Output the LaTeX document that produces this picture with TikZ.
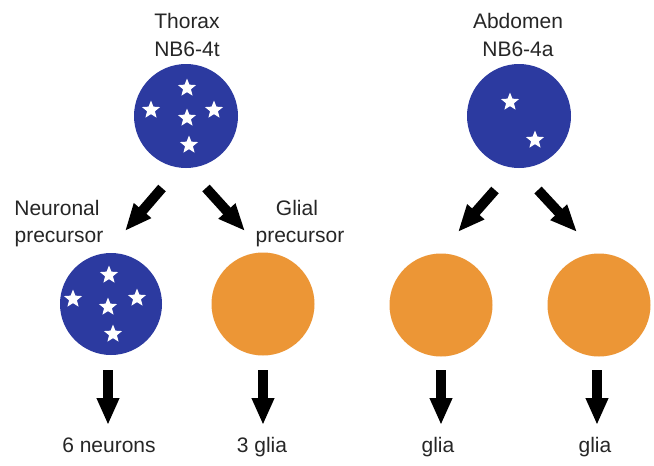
\documentclass[tikz,border=0pt]{standalone}
\usepackage{fontspec}
\setmainfont{Liberation Sans}
\usetikzlibrary{shapes.geometric,arrows.meta}
\definecolor{nbblue}{RGB}{44,58,160}
\definecolor{gliaorange}{RGB}{236,150,54}
\tikzset{
  blast/.style={circle,fill=nbblue,minimum size=104pt,inner sep=0pt},
  glia/.style={circle,fill=gliaorange,minimum size=103pt,inner sep=0pt},
  wstar/.style={star,star points=5,star point ratio=2.3,fill=white,minimum size=19pt,inner sep=0pt},
  lbl/.style={font=\fontsize{21}{25}\selectfont,anchor=base,inner sep=0pt,text=black!85},
  bigarrow/.style={line width=10pt,-{Triangle[width=21pt,length=27pt]}}
}
\begin{document}
\begin{tikzpicture}[x=1pt,y=-1pt]
\useasboundingbox[fill=white] (0,0) rectangle (654,466);
% labels
\node[lbl] (thx) at (187,28) {Thorax};
\node[lbl] (thxb) at (187,56) {NB6-4t};
\node[lbl] (abd) at (518,28) {Abdomen};
\node[lbl] (abdb) at (518,56) {NB6-4a};
\node[lbl] (neu) at (57,215) {Neuronal};
\node[lbl] (neub) at (59,242) {precursor};
\node[lbl] (gli) at (297,215) {Glial};
\node[lbl] (glib) at (300,242) {precursor};
\node[lbl] (o1) at (109,452) {6 neurons};
\node[lbl] (o2) at (262,452) {3 glia};
\node[lbl] (o3) at (438,452) {glia};
\node[lbl] (o4) at (595,452) {glia};
% cells
\node[blast] (t) at (186,116) {};
\node[blast] (a) at (519,116) {};
\node[blast,minimum size=102pt] (n) at (111,304) {};
\node[glia] (g1) at (263,304) {};
\node[glia] (g2) at (441,305) {};
\node[glia] (g3) at (599,305) {};
% stars thorax
\node[wstar] (ts1) at (187,88) {};
\node[wstar] (ts2) at (151,110) {};
\node[wstar] (ts3) at (187,118) {};
\node[wstar] (ts4) at (214,110) {};
\node[wstar] (ts5) at (189,145) {};
% stars abdomen
\node[wstar] (as1) at (510,102) {};
\node[wstar] (as2) at (535,140) {};
% stars neuronal precursor
\node[wstar] (ns1) at (109,275) {};
\node[wstar] (ns2) at (73,299) {};
\node[wstar] (ns3) at (108,307) {};
\node[wstar] (ns4) at (137,298) {};
\node[wstar] (ns5) at (113,334) {};
% arrow ends
\coordinate (d1s) at (162,188); \coordinate (d1e) at (125,231);
\coordinate (d2s) at (206,188); \coordinate (d2e) at (245,231);
\coordinate (d3s) at (495,190); \coordinate (d3e) at (458,232);
\coordinate (d4s) at (538,190); \coordinate (d4e) at (577,232);
\coordinate (v1s) at (108,370); \coordinate (v1e) at (108,425);
\coordinate (v2s) at (263,370); \coordinate (v2e) at (263,425);
\coordinate (v3s) at (441,370); \coordinate (v3e) at (441,425);
\coordinate (v4s) at (597,370); \coordinate (v4e) at (597,425);
\foreach \k in {d1,d2,d3,d4,v1,v2,v3,v4}
  \draw[bigarrow] (\k s) -- (\k e);
\end{tikzpicture}
\end{document}
